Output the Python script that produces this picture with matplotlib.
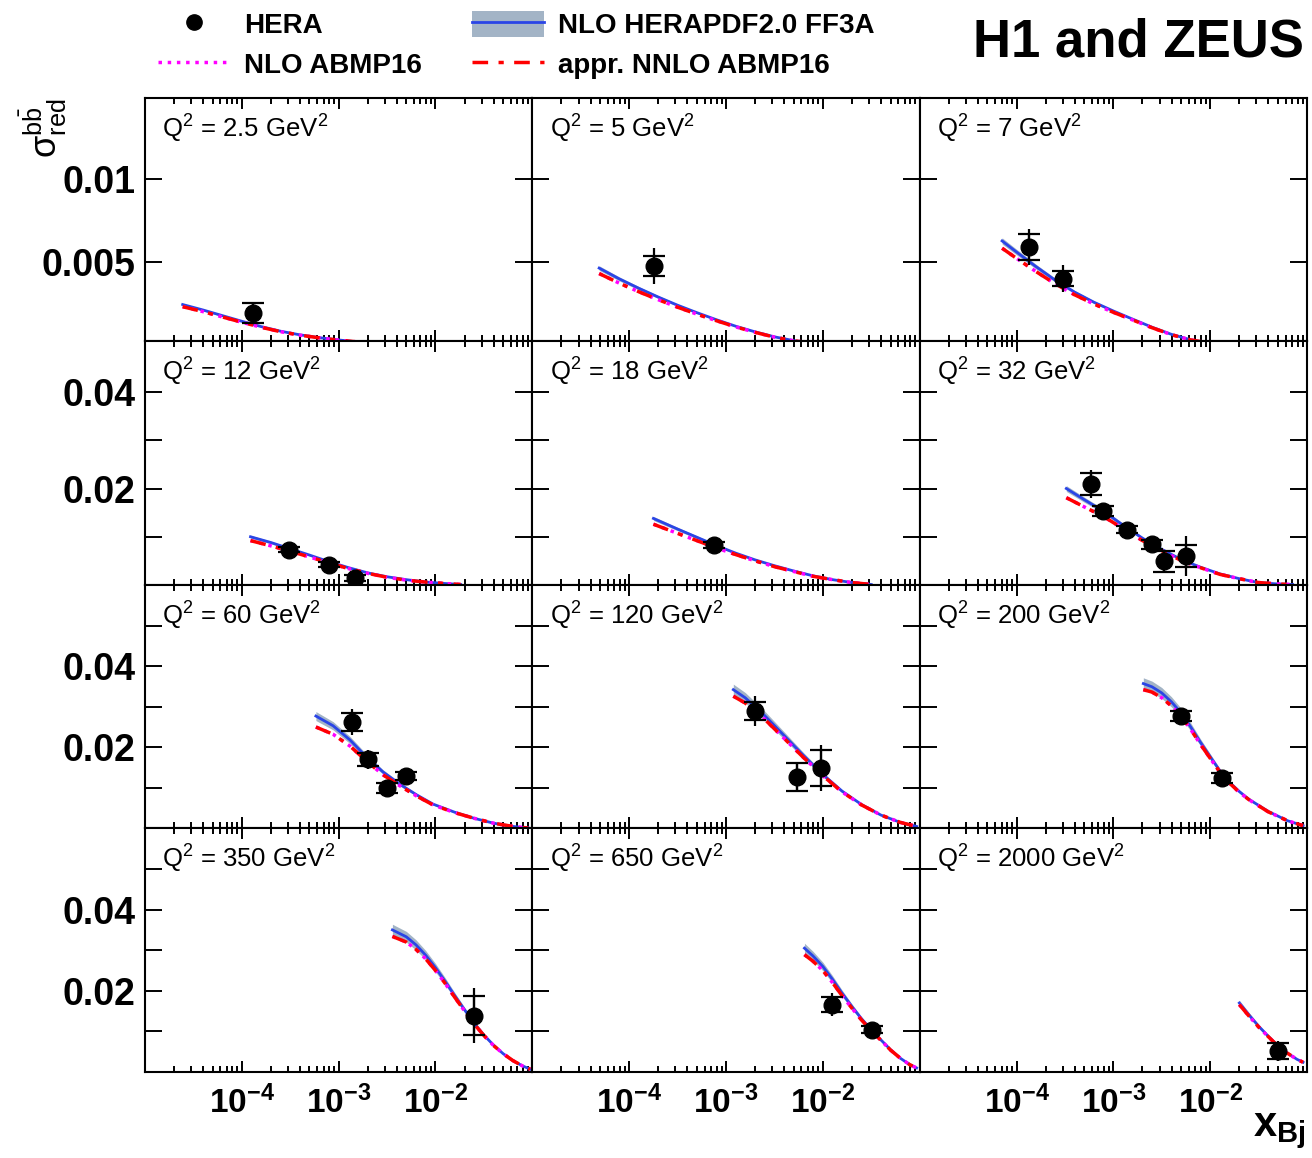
import matplotlib
matplotlib.use('Agg')
import matplotlib.pyplot as plt
from matplotlib.lines import Line2D
from matplotlib.patches import Patch

plt.rcParams['font.family'] = ['Liberation Sans', 'DejaVu Sans']
plt.rcParams['mathtext.fontset'] = 'custom'
plt.rcParams['mathtext.rm'] = 'Liberation Sans'
plt.rcParams['mathtext.it'] = 'Liberation Sans:italic'
plt.rcParams['mathtext.bf'] = 'Liberation Sans:bold'

# Q^2 bins (GeV^2), one panel each
q2_labels = ['2.5', '5', '7', '12', '18', '32', '60', '120', '200', '350', '650', '2000']

# HERA combined measurement: x, sigma_red, stat error, total error
data_x = [[1.3e-4], [1.8e-4], [1.35e-4, 3.0e-4],
          [3.1e-4, 7.9e-4, 1.47e-3], [7.6e-4],
          [5.9e-4, 7.9e-4, 1.4e-3, 2.5e-3, 3.3e-3, 5.6e-3],
          [1.36e-3, 2.02e-3, 3.16e-3, 5.0e-3], [2.0e-3, 5.4e-3, 9.5e-3],
          [5.0e-3, 1.33e-2], [2.5e-2], [1.25e-2, 3.2e-2], [5.0e-2]]
data_y = [[0.0019], [0.00476], [0.0059, 0.0040],
          [0.0073, 0.0042, 0.0015], [0.0083],
          [0.0209, 0.0153, 0.0115, 0.0084, 0.0049, 0.0060],
          [0.0262, 0.0170, 0.0100, 0.0129], [0.0289, 0.0127, 0.0149],
          [0.0277, 0.0125], [0.0139], [0.0166, 0.0104], [0.0051]]
data_stat = [[0.0006], [0.0006], [0.0008, 0.00045],
             [0.0005, 0.0005, 0.0006], [0.0006],
             [0.0023, 0.0010, 0.0008, 0.0009, 0.0022, 0.0022],
             [0.0023, 0.0015, 0.0012, 0.0010], [0.0022, 0.0034, 0.0044],
             [0.0012, 0.0012], [0.0047], [0.0018, 0.0009], [0.0020]]
data_tot = [[0.00065], [0.0011], [0.0011, 0.0008],
            [0.0008, 0.0008, 0.0010], [0.0008],
            [0.0029, 0.0012, 0.0010, 0.0011, 0.0022, 0.0041],
            [0.0032, 0.0023, 0.0016, 0.0012], [0.0037, 0.0034, 0.0057],
            [0.0017, 0.0015], [0.0068], [0.0029, 0.0011], [0.0025]]

# theory predictions
theo_x = [
    [2.45e-5, 3.98e-5, 6.3e-5, 1.0e-4, 1.58e-4, 2.51e-4, 3.98e-4, 6.3e-4, 1.0e-3, 1.58e-3, 2.51e-3, 3.98e-3, 7.9e-3],
    [4.9e-5, 7.9e-5, 1.26e-4, 2.0e-4, 3.16e-4, 5.0e-4, 7.9e-4, 1.26e-3, 2.0e-3, 3.16e-3, 5.0e-3, 7.9e-3, 1.26e-2, 2.0e-2],
    [7.1e-5, 1.0e-4, 1.58e-4, 2.51e-4, 3.98e-4, 6.3e-4, 1.0e-3, 1.58e-3, 2.51e-3, 3.98e-3, 6.3e-3, 1.0e-2, 1.58e-2, 2.51e-2],
    [1.23e-4, 2.0e-4, 3.16e-4, 5.0e-4, 7.9e-4, 1.26e-3, 2.0e-3, 3.16e-3, 5.0e-3, 7.9e-3, 1.26e-2, 1.82e-2],
    [1.78e-4, 3.16e-4, 5.0e-4, 7.9e-4, 1.26e-3, 2.0e-3, 3.16e-3, 5.0e-3, 7.9e-3, 1.26e-2, 2.0e-2, 3.16e-2],
    [3.27e-4, 5.0e-4, 7.9e-4, 1.26e-3, 2.0e-3, 3.16e-3, 5.0e-3, 7.9e-3, 1.26e-2, 2.0e-2, 3.16e-2, 5.0e-2, 7.1e-2],
    [5.82e-4, 8.77e-4, 1.31e-3, 1.94e-3, 2.88e-3, 4.29e-3, 6.37e-3, 9.44e-3, 1.58e-2, 2.51e-2, 3.98e-2, 6.3e-2, 9.1e-2],
    [1.19e-3, 1.58e-3, 2.51e-3, 3.98e-3, 6.3e-3, 1.0e-2, 1.58e-2, 2.51e-2, 3.98e-2, 6.3e-2, 9.3e-2],
    [2.04e-3, 2.51e-3, 3.16e-3, 3.98e-3, 5.0e-3, 6.3e-3, 7.9e-3, 1.0e-2, 1.26e-2, 1.58e-2, 2.0e-2, 2.51e-2, 3.98e-2, 6.3e-2, 9.1e-2],
    [3.59e-3, 5.0e-3, 6.3e-3, 7.9e-3, 1.0e-2, 1.26e-2, 1.58e-2, 2.0e-2, 2.51e-2, 3.16e-2, 3.98e-2, 5.0e-2, 6.3e-2, 7.9e-2, 9.5e-2],
    [6.46e-3, 7.9e-3, 1.0e-2, 1.26e-2, 1.58e-2, 2.0e-2, 2.51e-2, 3.16e-2, 3.98e-2, 5.0e-2, 6.3e-2, 7.9e-2, 9.3e-2],
    [2.0e-2, 2.51e-2, 3.16e-2, 3.98e-2, 5.0e-2, 6.3e-2, 7.9e-2, 9.1e-2],
]
hera_theo = [
    [0.00243, 0.00210, 0.00176, 0.00142, 0.00110, 0.00082, 0.00060, 0.00043, 0.00029, 0.00017, 0.00008, 0.00003, 0.0],
    [0.00463, 0.00398, 0.00341, 0.00288, 0.00239, 0.00194, 0.00152, 0.00112, 0.00078, 0.00048, 0.00025, 0.00010, 0.00003, 0.0],
    [0.00627, 0.00560, 0.00473, 0.00390, 0.00318, 0.00257, 0.00204, 0.00155, 0.00106, 0.00063, 0.00030, 0.00010, 0.00002, 0.0],
    [0.0100, 0.0088, 0.0075, 0.0062, 0.00485, 0.0036, 0.0025, 0.0017, 0.0011, 0.0006, 0.0003, 0.0001],
    [0.0138, 0.0116, 0.0099, 0.0082, 0.0066, 0.0052, 0.0040, 0.0029, 0.0019, 0.0011, 0.0005, 0.0001],
    [0.0200, 0.0177, 0.0153, 0.0124, 0.0097, 0.0074, 0.0053, 0.0037, 0.0023, 0.0013, 0.0005, 0.0002, 0.0001],
    [0.0277, 0.0253, 0.0218, 0.0176, 0.0139, 0.0109, 0.0083, 0.0060, 0.0040, 0.0025, 0.0013, 0.0005, 0.0001],
    [0.0342, 0.0322, 0.0278, 0.0229, 0.0180, 0.0133, 0.0092, 0.0059, 0.0033, 0.0015, 0.0005],
    [0.0357, 0.0349, 0.0334, 0.0312, 0.0285, 0.0250, 0.0213, 0.0177, 0.0142, 0.0114, 0.0091, 0.0072, 0.0042, 0.0019, 0.0007],
    [0.0350, 0.0333, 0.0313, 0.0288, 0.0257, 0.0223, 0.0188, 0.0153, 0.0120, 0.0091, 0.0066, 0.0045, 0.0028, 0.0015, 0.0007],
    [0.0305, 0.0286, 0.0260, 0.0228, 0.0194, 0.0161, 0.0131, 0.0104, 0.0079, 0.0055, 0.0034, 0.0018, 0.0010],
    [0.0170, 0.0141, 0.0113, 0.0088, 0.0065, 0.0046, 0.0031, 0.0024],
]
abmp_theo = [
    [0.00230, 0.00200, 0.00168, 0.00136, 0.00106, 0.00079, 0.00058, 0.00042, 0.00028, 0.00017, 0.00008, 0.00003, 0.0],
    [0.00430, 0.00372, 0.00320, 0.00272, 0.00227, 0.00185, 0.00146, 0.00108, 0.00075, 0.00046, 0.00024, 0.00010, 0.00003, 0.0],
    [0.00583, 0.00522, 0.00443, 0.00368, 0.00302, 0.00246, 0.00196, 0.00150, 0.00103, 0.00061, 0.00029, 0.00010, 0.00002, 0.0],
    [0.0092, 0.0081, 0.0070, 0.0058, 0.0046, 0.0034, 0.0024, 0.0016, 0.0010, 0.0006, 0.0003, 0.0001],
    [0.0126, 0.0107, 0.0092, 0.0077, 0.0063, 0.0050, 0.0038, 0.0028, 0.0018, 0.0011, 0.0005, 0.0001],
    [0.0181, 0.0162, 0.0142, 0.0117, 0.0092, 0.0071, 0.0051, 0.0036, 0.0022, 0.0013, 0.0005, 0.0002, 0.0001],
    [0.0250, 0.0232, 0.0203, 0.0166, 0.0132, 0.0105, 0.0080, 0.0058, 0.0039, 0.0025, 0.0013, 0.0005, 0.0001],
    [0.0326, 0.0309, 0.0269, 0.0222, 0.0175, 0.0130, 0.0090, 0.0058, 0.0033, 0.0015, 0.0005],
    [0.0342, 0.0336, 0.0322, 0.0302, 0.0277, 0.0244, 0.0208, 0.0173, 0.0139, 0.0112, 0.0089, 0.0071, 0.0041, 0.0019, 0.0007],
    [0.0334, 0.0320, 0.0302, 0.0279, 0.0250, 0.0218, 0.0184, 0.0150, 0.0118, 0.0090, 0.0065, 0.0045, 0.0028, 0.0015, 0.0007],
    [0.0289, 0.0273, 0.0250, 0.0220, 0.0188, 0.0157, 0.0128, 0.0102, 0.0078, 0.0054, 0.0034, 0.0018, 0.0010],
    [0.0166, 0.0138, 0.0111, 0.0087, 0.0064, 0.0046, 0.0031, 0.0024],
]
band_rel = [0.03, 0.03, 0.03, 0.03, 0.03, 0.03, 0.04, 0.04, 0.04, 0.04, 0.04, 0.04]

row_ylim = [(0.0002, 0.0149), (0.0, 0.0505), (0.0, 0.060), (0.0, 0.060)]
row_yticks = [[0.005, 0.01], [0.01, 0.02, 0.03, 0.04],
              [0.01, 0.02, 0.03, 0.04, 0.05], [0.01, 0.02, 0.03, 0.04, 0.05]]
row_ylabels = [['0.005', '0.01'], ['', '0.02', '', '0.04'],
               ['', '0.02', '', '0.04', ''], ['', '0.02', '', '0.04', '']]

BAND = '#a3b4c6'
BLUE = '#2a45e6'
DASHDOT = (0, (4.5, 3, 1.5, 3))

fig = plt.figure(figsize=(13.12, 11.58), dpi=100)
gs = fig.add_gridspec(4, 3, left=0.1105, right=0.9962, top=0.9154, bottom=0.0743,
                      hspace=0, wspace=0)

for i in range(12):
    r, c = divmod(i, 3)
    ax = fig.add_subplot(gs[r, c])
    hx = theo_x[i]
    hy = hera_theo[i]
    lo = [v * (1 - band_rel[i]) for v in hy]
    hi = [v * (1 + band_rel[i]) for v in hy]
    ax.fill_between(hx, lo, hi, color=BAND, lw=0, zorder=1)
    ax.plot(hx, hy, color=BLUE, lw=2, zorder=2)
    ax.plot(hx, abmp_theo[i], color='magenta', ls=':', lw=2.5, zorder=3)
    ax.plot(hx, abmp_theo[i], color='red', ls=DASHDOT, lw=2.5, zorder=4)
    ax.errorbar(data_x[i], data_y[i], yerr=data_tot[i], fmt='o', color='black',
                ms=12, elinewidth=1.6, capsize=0, zorder=5)
    ax.errorbar(data_x[i], data_y[i], yerr=data_stat[i], fmt='none', ecolor='black',
                elinewidth=1.6, capsize=8, capthick=1.6, zorder=5)

    ax.set_xscale('log')
    ax.set_xlim(1e-5, 1e-1)
    ax.set_ylim(*row_ylim[r])
    ax.set_xticks([1e-5, 1e-4, 1e-3, 1e-2, 1e-1])
    if r == 3:
        ax.set_xticklabels(['', r'$\mathbf{10^{-4}}$', r'$\mathbf{10^{-3}}$',
                            r'$\mathbf{10^{-2}}$', ''], fontsize=24)
    else:
        ax.set_xticklabels([])
    ax.set_yticks(row_yticks[r])
    if c == 0:
        ax.set_yticklabels(row_ylabels[r], fontsize=27, fontweight='bold')
    else:
        ax.set_yticklabels([])
    ax.tick_params(which='both', direction='in', top=True, right=True, width=1.4)
    ax.tick_params(axis='x', which='major', length=8, pad=10)
    ax.tick_params(axis='x', which='minor', length=4)
    ax.tick_params(axis='y', which='major', length=12, pad=7)
    ax.tick_params(axis='y', which='minor', length=0)
    for s in ax.spines.values():
        s.set_linewidth(1.5)
    ax.text(0.045, 0.94, r'Q$^2$ = %s GeV$^2$' % q2_labels[i], transform=ax.transAxes,
            fontsize=18.5, ha='left', va='top')

handles = [Line2D([], [], marker='o', color='black', ls='none', ms=11),
           Line2D([], [], color='magenta', ls=':', lw=2.5),
           (Patch(facecolor=BAND, edgecolor='none'), Line2D([], [], color=BLUE, lw=2)),
           Line2D([], [], color='red', ls=DASHDOT, lw=2.5)]
labels = ['HERA', 'NLO ABMP16', 'NLO HERAPDF2.0 FF3A', 'appr. NNLO ABMP16']
fig.legend(handles, labels, ncol=2, loc='upper left', bbox_to_anchor=(158 / 1312, 1 - 11 / 1158),
           frameon=False, borderpad=0, borderaxespad=0, handlelength=2.6, handleheight=1.05,
           handletextpad=0.5, columnspacing=1.8, labelspacing=0.4,
           prop={'size': 20, 'weight': 'bold'})

fig.text(0.994, 0.9637, 'H1 and ZEUS', ha='right', va='center', fontsize=38, fontweight='bold')
fig.text(0.033, 0.889, r'$\mathrm{σ}^{\mathrm{b\bar{b}}}_{\mathrm{red}}$', rotation=90,
         fontsize=26, ha='center', va='center')
fig.text(0.995, 0.006, r'$\mathbf{x}_{\mathbf{Bj}}$', ha='right', va='bottom', fontsize=30)

fig.savefig('out.png', dpi=100)
